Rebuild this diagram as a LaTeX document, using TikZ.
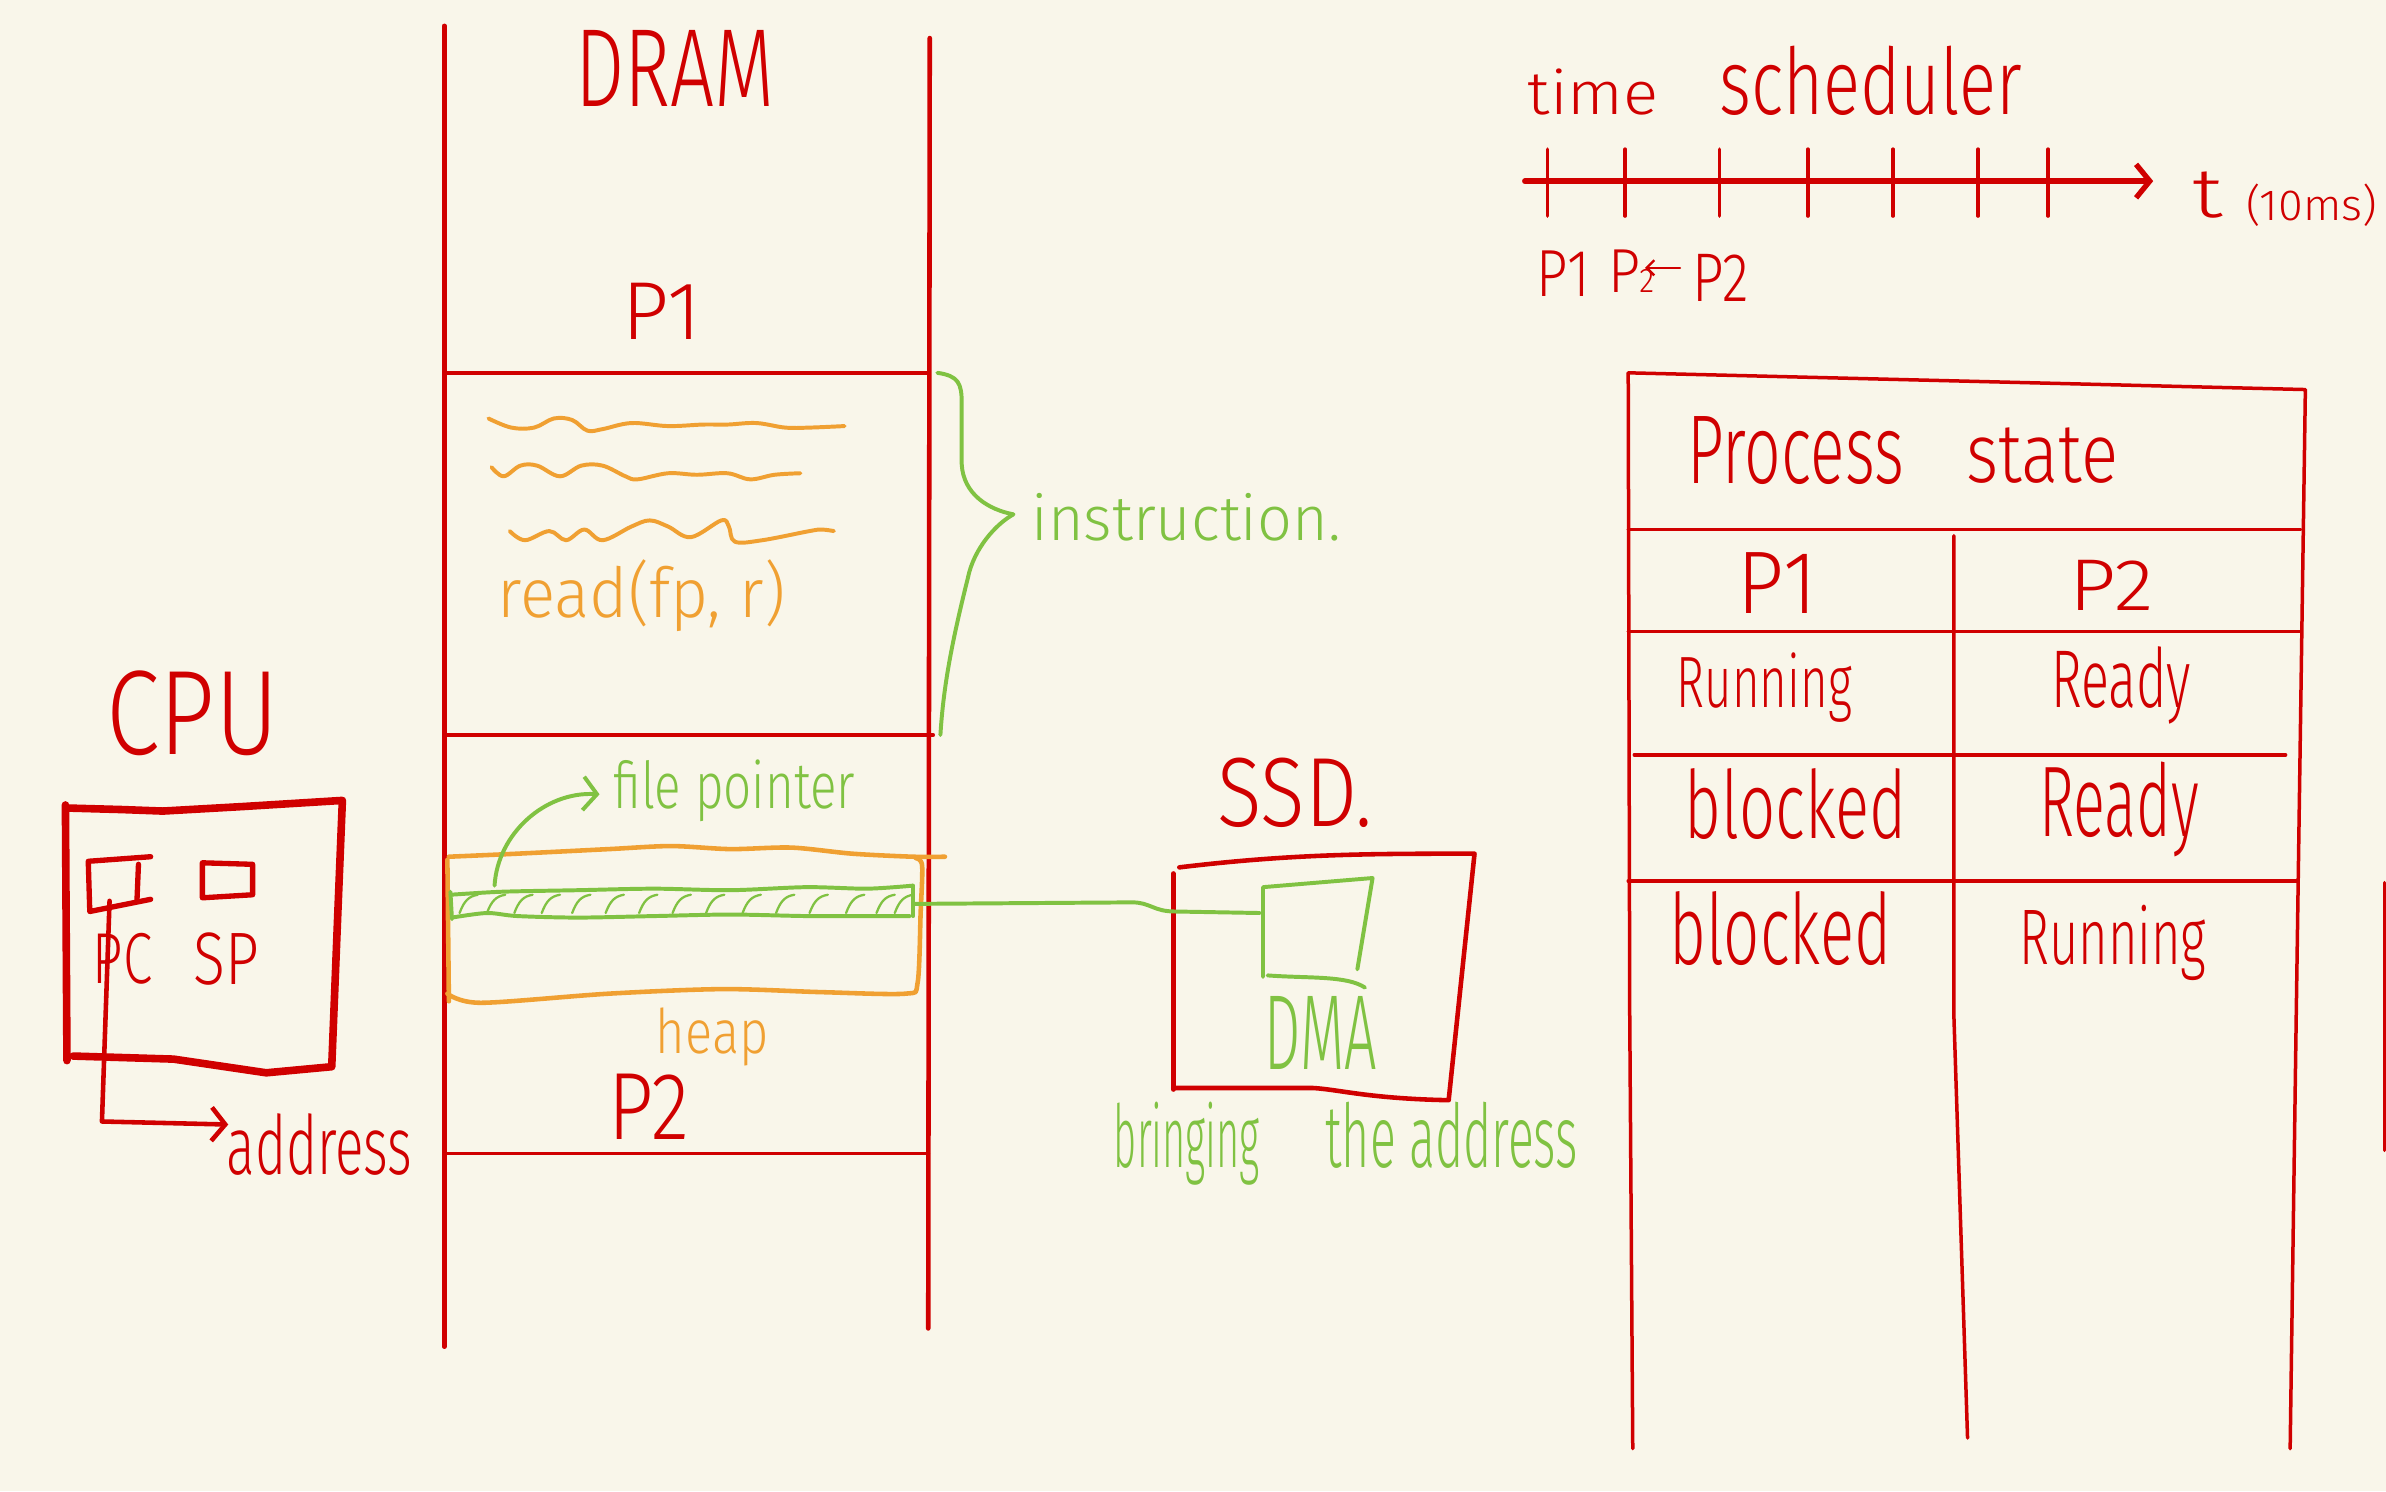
\documentclass[tikz,border=0pt]{standalone}
\usepackage{fontspec}
\usetikzlibrary{arrows.meta}
\newfontfamily\hwf{Fira Sans Light}
\definecolor{bgc}{RGB}{249,246,234}
\definecolor{hred}{RGB}{208,0,0}
\definecolor{horange}{RGB}{240,160,50}
\definecolor{hgreen}{RGB}{128,194,66}
\newcommand\hwt[3]{\resizebox{#1pt}{#2pt}{\hwf #3}}
\tikzset{
 lbl/.style={inner sep=0pt, outer sep=0pt, anchor=base west},
 redtxt/.style={lbl, text=hred},
 ortxt/.style={lbl, text=horange},
 grtxt/.style={lbl, text=hgreen},
 memline/.style={draw=hred, line width=3pt, line cap=round},
 tabline/.style={draw=hred, line width=2.3pt, line cap=round, line join=round},
 cpuline/.style={draw=hred, line width=5pt, line cap=round, line join=round},
 boxline/.style={draw=hred, line width=3pt, line cap=round, line join=round},
 orline/.style={draw=horange, line width=3pt, line cap=round, line join=round},
 grline/.style={draw=hgreen, line width=2.6pt, line cap=round, line join=round},
 barb/.style={-{Straight Barb[length=9pt,width=22pt]}},
}
\begin{document}
\begin{tikzpicture}[x=1pt,y=-1pt]
\fill[bgc] (0,0) rectangle (1568,980);
\useasboundingbox (0,0) rectangle (1568,980);

% ---------------- DRAM ----------------
\coordinate (dlt) at (292,17); \coordinate (dlb) at (292,885);
\coordinate (drt) at (611,25); \coordinate (drb) at (610,873);
\draw[memline] (dlt) -- (dlb);
\draw[memline] (drt) -- (drb);
\draw[memline] (292,245) -- (610,245);
\draw[memline] (292,483) -- (613,483);
\draw[memline, line width=2.5pt] (292,758) -- (610,758);

\node[redtxt] (dram) at (378,70) {\hwt{131}{50}{DRAM}};
\node[redtxt] (p1) at (409,223) {\hwt{52}{37}{P1}};
\node[redtxt] (p2) at (400,749) {\hwt{53}{43}{P2}};

% instruction squiggles
\draw[orline, line width=2.6pt] plot[smooth, tension=0.6] coordinates {(321,275) (336,281) (351,281) (364,275) (376,276) (386,283) (396,282) (415,278) (439,280) (462,279) (478,279) (497,278) (516,281) (532,281) (555,280)};
\draw[orline, line width=2.6pt] plot[smooth, tension=0.6] coordinates {(323,307) (331,313) (342,306) (353,306) (368,313) (382,306) (396,306) (411,313) (419,315) (439,311) (458,312) (478,311) (493,315) (509,312) (526,311)};
\draw[orline, line width=2.6pt] plot[smooth, tension=0.6] coordinates {(335,349) (345,355) (361,349) (372,355) (384,348) (396,355) (415,346) (427,342) (439,346) (454,353) (474,342) (479,346) (483,356) (501,355) (532,349) (540,348) (548,349)};
\node[ortxt] (readfp) at (327,406) {\hwt{189}{38}{read(fp, r)}};

% instruction brace
\coordinate (brT) at (616,245); \coordinate (brB) at (618,483); \coordinate (brTip) at (666,338);
\draw[grline] (brT) .. controls (630,247) and (632,252) .. (632,265) -- (632,305) .. controls (633,325) and (650,335) .. (brTip);
\draw[grline] (brTip) .. controls (655,344) and (640,360) .. (636,380) .. controls (626,420) and (620,450) .. (brB);
\node[grtxt] (instr) at (678,355) {\hwt{203}{31}{instruction.}};

% heap box
\draw[orline] plot[smooth, tension=0.5] coordinates {(295,563) (340,561) (400,558) (441,556) (480,558) (520,557) (560,561) (600,563) (621,563)};
\draw[orline] (294,565) -- (295,658);
\draw[orline] plot[smooth, tension=0.5] coordinates {(602,564) (606,569) (605,600) (603,646) (595,653) (540,652) (475,650) (400,653) (316,659) (294,653)};
\node[ortxt] (heap) at (431,692) {\hwt{74}{30}{heap}};

% file pointer strip
\draw[grline] plot[smooth, tension=0.5] coordinates {(296,588) (330,586) (380,585) (430,584) (480,585) (530,583) (570,584) (600,582)};
\draw[grline] plot[smooth, tension=0.5] coordinates {(297,603) (320,600) (340,602) (380,603) (430,602) (480,601) (530,602) (570,602) (598,602)};
\draw[grline] (296,586) -- (297,604);
\draw[grline] (600,582) -- (600,602);
\foreach \hx in {302,320,338,356,376,398,420,442,464,488,510,532,556,576,588}
  \draw[hgreen, line width=1.5pt, line cap=round] (\hx,600) .. controls (\hx+3,592) and (\hx+6,589) .. (\hx+12,588);
\coordinate (fpS) at (325,582); \coordinate (fpT) at (394,522);
\draw[grline, barb] (fpS) .. controls (327,548) and (358,520) .. (fpT);
\node[grtxt] (fptr) at (403,531) {\hwt{159}{32}{file pointer}};

% ---------------- CPU ----------------
\node[redtxt] (cpu) at (70,496) {\hwt{113}{55}{CPU}};
\draw[cpuline] (43,529) -- (44,697);
\draw[cpuline] (44,531) -- (80,532) -- (107,533) -- (160,530) -- (225,526) -- (222,600) -- (218,701) -- (175,705) -- (114,696) -- (48,694);
\draw[boxline, line width=3.5pt] (99,563) -- (58,566) -- (59,599) -- (99,591);
\draw[boxline, line width=3.5pt] (91,568) -- (90,592);
\draw[boxline, line width=3.5pt] (133,567) -- (133,590) -- (166,588) -- (166,568) -- cycle;
\node[redtxt] (pc) at (61,646) {\hwt{39}{33}{PC}};
\node[redtxt] (sp) at (127,647) {\hwt{43}{34}{SP}};
\coordinate (pcA) at (72,592); \coordinate (addrA) at (150,739);
\draw[boxline, barb] (pcA) -- (67,737) -- (addrA);
\node[redtxt] (addr) at (149,772) {\hwt{122}{40}{address}};

% ---------------- SSD ----------------
\node[redtxt] (ssd) at (800,543) {\hwt{102}{45}{SSD.}};
\draw[boxline] (775,570) .. controls (850,561) and (900,561) .. (969,561) -- (952,723) .. controls (900,722) and (880,716) .. (863,715) -- (771,715);
\draw[boxline] (771,574) -- (771,716);
\draw[grline] (830,642) -- (830,583) -- (902,577) -- (892,637);
\draw[grline] (833,641) .. controls (860,643) and (885,641) .. (897,649);
\node[grtxt] (dma) at (831,703) {\hwt{74}{48}{DMA}};
\coordinate (fpR) at (600,594); \coordinate (dmaL) at (828,600);
\draw[grline] (fpR) -- (744,593) .. controls (756,593) and (758,599) .. (772,599) -- (dmaL);
\node[grtxt] (bring) at (732,767) {\hwt{96}{43}{bringing}};
\node[grtxt] (theaddr) at (871,767) {\hwt{166}{43}{the address}};

% ---------------- time scheduler ----------------
\node[redtxt] (time) at (1004,75) {\hwt{86}{30}{time}};
\node[redtxt] (sched) at (1130,75) {\hwt{199}{45}{scheduler}};
\coordinate (ax0) at (1002,119); \coordinate (ax1) at (1415,119);
\draw[boxline, line width=3.5pt, barb] (ax0) -- (ax1);
\foreach \tx in {1017,1068,1130,1188,1244,1300,1346}
  \draw[tabline] (\tx,98) -- (\tx,142);
\node[redtxt] (tlab) at (1441,143) {\hwt{20}{30}{t}};
\node[redtxt] (tms) at (1476,145) {\hwt{86}{24}{(10ms)}};
\node[redtxt] (sp1) at (1010,195) {\hwt{35}{30}{P1}};
\node[redtxt] (sp2a) at (1057,192) {\hwt{30}{28}{P\kern-0.02em{\fontsize{5.5}{6}\selectfont 2}}};
\node[redtxt] (sp2b) at (1112,198) {\hwt{37}{31}{P2}};
\coordinate (arrS) at (1104,176); \coordinate (arrE) at (1081,176);
\draw[hred, line width=1.6pt, line cap=round, -{Straight Barb[length=5pt,width=10pt]}] (arrS) -- (arrE);

% ---------------- Process state table ----------------
\draw[tabline] (1070,245) -- (1515,256) -- (1509,667) -- (1505,952);
\draw[tabline] (1070,245) -- (1071,667) -- (1073,952);
\draw[tabline] (1070,348) -- (1512,348);
\draw[tabline] (1284,352) -- (1284,667) -- (1293,945);
\draw[tabline] (1070,415) -- (1512,415);
\draw[tabline] (1074,496) -- (1502,496);
\draw[tabline] (1070,579) -- (1510,579);
\draw[tabline] (1567,580) -- (1567,756);
\node[redtxt] (proc) at (1109,318) {\hwt{142}{44}{Process}};
\node[redtxt] (state) at (1292,317) {\hwt{100}{36}{state}};
\node[redtxt] (tp1) at (1142,403) {\hwt{52}{40}{P1}};
\node[redtxt] (tp2) at (1360,401) {\hwt{55}{33}{P2}};
\node[redtxt] (run1) at (1102,465) {\hwt{115}{36}{Running}};
\node[redtxt] (rdy1) at (1348,465) {\hwt{92}{40}{Ready}};
\node[redtxt] (blk2) at (1107,551) {\hwt{146}{46}{blocked}};
\node[redtxt] (rdy2) at (1340,550) {\hwt{105}{49}{Ready}};
\node[redtxt] (blk3) at (1097,634) {\hwt{146}{48}{blocked}};
\node[redtxt] (run3) at (1327,634) {\hwt{123}{39}{Running}};
\end{tikzpicture}
\end{document}
